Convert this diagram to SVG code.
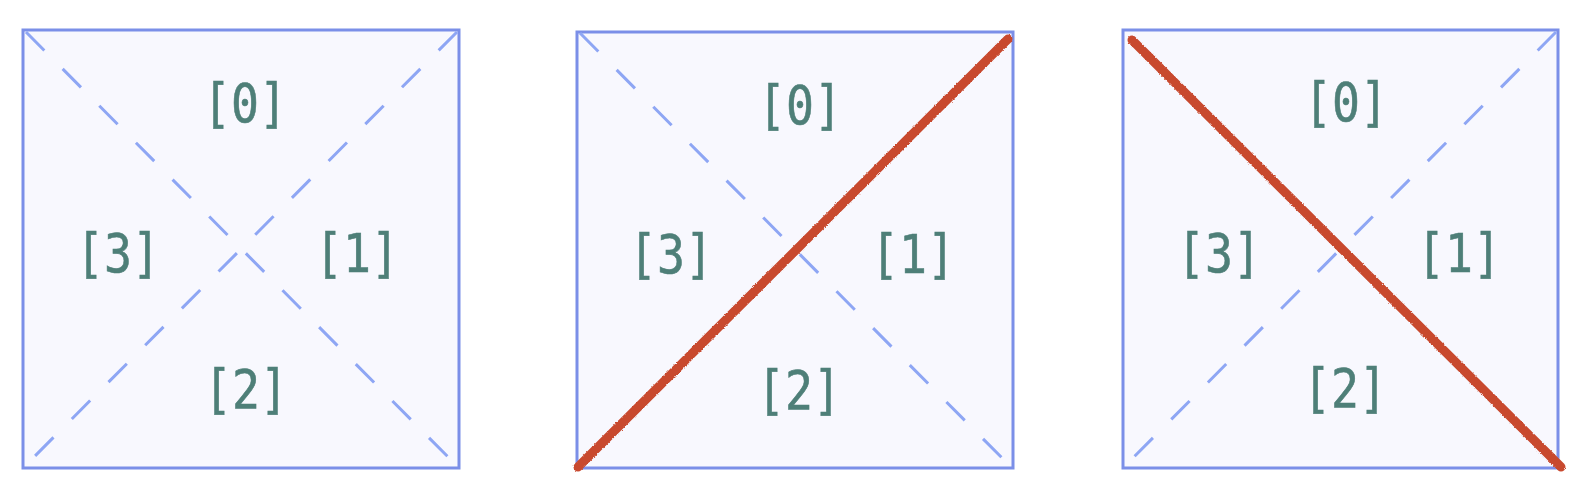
<svg xmlns="http://www.w3.org/2000/svg" width="1592" height="504" viewBox="0 0 1592 504">
<style>
.box{fill:#f8f8fe;stroke:#7b8fe8;stroke-width:3}
.dash{stroke:#8ea6f4;stroke-width:3;stroke-dasharray:26 26;fill:none}
.cut{stroke:#c8492f;stroke-width:9;stroke-linecap:round;fill:none;filter:url(#rough)}
.lbl{font-family:"DejaVu Sans Mono","Liberation Mono",monospace;font-size:53px;fill:#4e7f78;stroke:#4e7f78;stroke-width:0.6;text-anchor:middle;dominant-baseline:central}
</style>
<defs>
<filter id="rough" x="-5%" y="-5%" width="110%" height="110%">
<feTurbulence type="fractalNoise" baseFrequency="0.9" numOctaves="2" seed="3" result="n"/>
<feDisplacementMap in="SourceGraphic" in2="n" scale="2.5" xChannelSelector="R" yChannelSelector="G"/>
</filter>
</defs>
<g id="box1">
<rect class="box" x="23" y="30" width="436" height="438"/>
<text class="lbl" x="245" y="103" textLength="84" lengthAdjust="spacingAndGlyphs">[0]</text>
<text class="lbl" x="357" y="253" textLength="84" lengthAdjust="spacingAndGlyphs">[1]</text>
<text class="lbl" x="246" y="389" textLength="84" lengthAdjust="spacingAndGlyphs">[2]</text>
<text class="lbl" x="118" y="253" textLength="84" lengthAdjust="spacingAndGlyphs">[3]</text>
</g>
<g id="box2">
<rect class="box" x="577" y="32" width="436" height="436"/>
<text class="lbl" x="800" y="105" textLength="84" lengthAdjust="spacingAndGlyphs">[0]</text>
<text class="lbl" x="913" y="254" textLength="84" lengthAdjust="spacingAndGlyphs">[1]</text>
<text class="lbl" x="799" y="390" textLength="84" lengthAdjust="spacingAndGlyphs">[2]</text>
<text class="lbl" x="671" y="254" textLength="84" lengthAdjust="spacingAndGlyphs">[3]</text>
</g>
<g id="box3">
<rect class="box" x="1123" y="30" width="435" height="438"/>
<text class="lbl" x="1346" y="102" textLength="84" lengthAdjust="spacingAndGlyphs">[0]</text>
<text class="lbl" x="1459" y="253" textLength="84" lengthAdjust="spacingAndGlyphs">[1]</text>
<text class="lbl" x="1345" y="388" textLength="84" lengthAdjust="spacingAndGlyphs">[2]</text>
<text class="lbl" x="1219" y="253" textLength="84" lengthAdjust="spacingAndGlyphs">[3]</text>
</g>
<g id="connectors">
<line class="dash" x1="26" y1="32" x2="457" y2="466"/>
<line class="dash" x1="457" y1="32" x2="23" y2="468"/>
<line class="dash" x1="580" y1="33" x2="1011" y2="467"/>
<line class="dash" x1="1556" y1="32" x2="1123" y2="468"/>
<line class="cut" x1="578" y1="467" x2="1008" y2="39"/>
<line class="cut" x1="1132" y1="40" x2="1561" y2="467"/>
</g>
</svg>
